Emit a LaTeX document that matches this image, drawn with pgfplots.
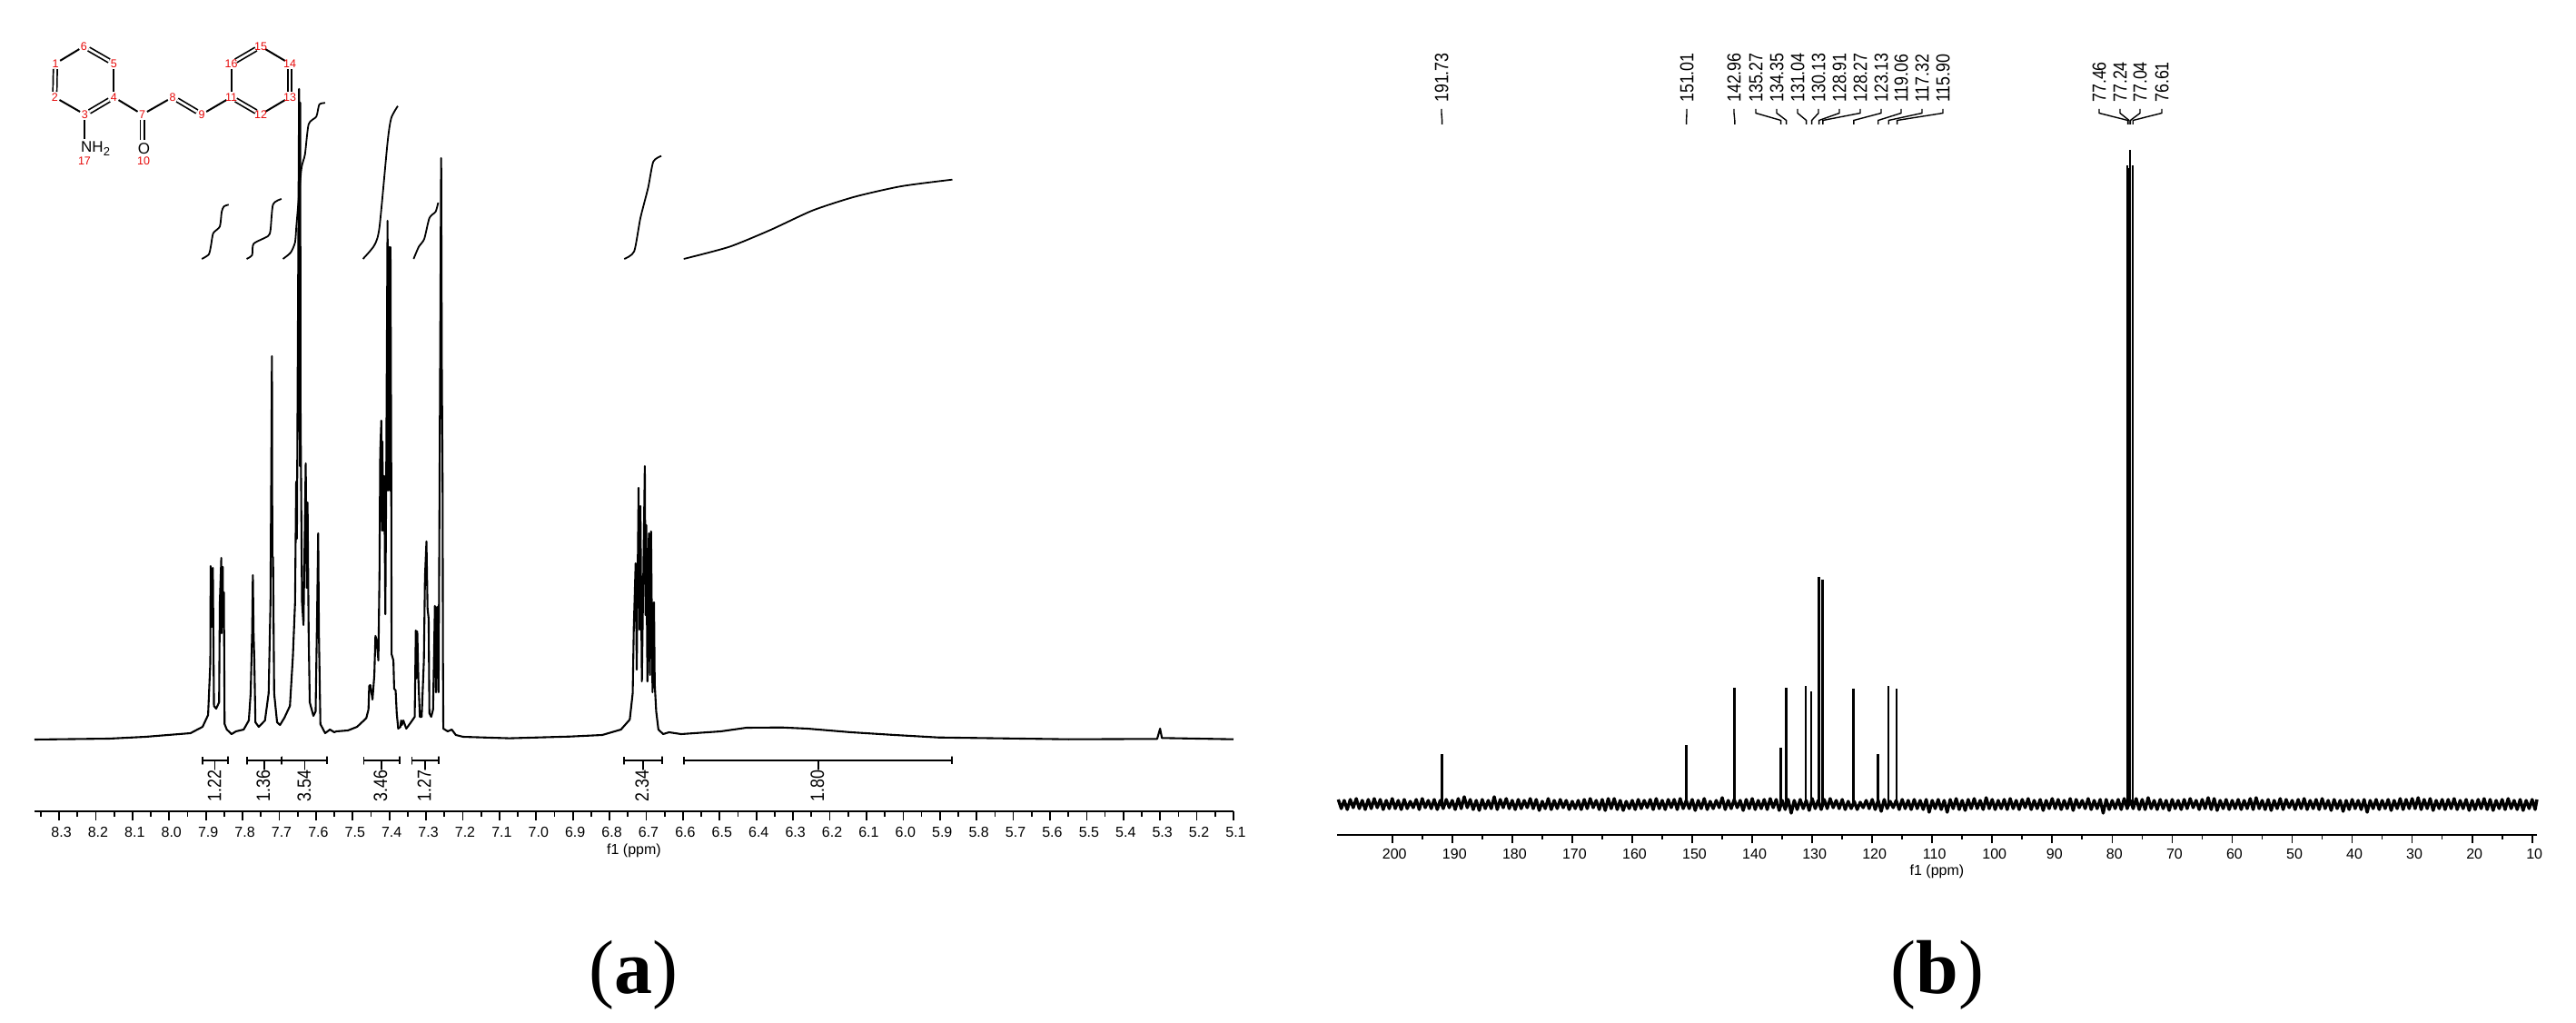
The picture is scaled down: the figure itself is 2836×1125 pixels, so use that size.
\documentclass[border=0pt]{standalone}
\usepackage{fontspec}
\usepackage{graphicx}
\usepackage{pgfplots}
\pgfplotsset{compat=1.18}
\setmainfont{Liberation Sans}
\newfontfamily\capfont{Liberation Serif}
\newcommand\tickfont{\fontsize{16}{18}\selectfont}
\newcommand\pk[1]{\scalebox{.85}[1]{\fontsize{21}{22}\selectfont #1}}
\definecolor{atomred}{RGB}{230,10,10}

\pgfplotsset{
  spec/.style={
    scale only axis, clip=false, x dir=reverse,
    axis x line*=bottom, axis y line=none,
    axis line style={line width=2pt, -},
    every tick/.style={black, line width=1.7pt},
    major tick length=10pt, minor tick length=6pt,
    tick align=outside, minor x tick num=1,
    scaled x ticks=false,
    tick label style={font=\tickfont},
    label style={font=\tickfont},
    every axis plot/.append style={black, no marks, line join=round, line cap=butt},
  },
  integ/.style={line width=1.8pt, smooth, tension=0.4},
  bar/.style={line width=1.4pt},
}

\begin{document}
\begin{tikzpicture}[x=1pt,y=1pt]
\path (0,0) rectangle (2836,1125);

% (a) 1H spectrum, baseline is y=0, one unit is one pixel
\begin{axis}[spec, anchor=south west, at={(38pt,232pt)},
    width=1320pt, height=843pt,
    xmin=5.1, xmax=8.367, ymin=-80, ymax=763,
    xtick={5.1,5.2,...,8.35},
    xticklabel style={xshift=2.5pt, yshift=-4pt, /pgf/number format/.cd, fixed, fixed zerofill, precision=1, assume math mode=true},
    xlabel={f1 (ppm)},
    xlabel style={at={(axis description cs:0.5,0)}, anchor=center, yshift=-43pt}]
\addplot[line width=2.1pt] coordinates {
(8.367,-1)(8.164,0)(8.065,2)(7.942,6)(7.909,13)(7.894,26)(7.888,83)(7.887,190)(7.884,123)(7.881,188)(7.878,36)
(7.872,33)(7.864,40)(7.862,150)(7.858,199)(7.857,116)(7.854,189)(7.853,123)(7.851,161)(7.849,16)(7.843,10)
(7.830,5)(7.818,8)(7.797,10)(7.783,20)(7.778,50)(7.774,116)(7.772,180)(7.770,116)(7.768,86)(7.765,18)
(7.756,13)(7.739,20)(7.729,50)(7.724,150)(7.720,421)(7.719,200)(7.717,200)(7.714,50)(7.706,18)(7.698,15)
(7.686,23)(7.671,36)(7.663,90)(7.657,150)(7.654,283)(7.652,220)(7.646,715)(7.644,300)(7.643,700)(7.642,363)
(7.640,248)(7.638,150)(7.634,125)(7.628,303)(7.625,166)(7.623,260)(7.620,116)(7.617,40)(7.607,25)(7.601,30)
(7.597,136)(7.594,226)(7.592,116)(7.588,16)(7.575,6)(7.562,10)(7.550,7)(7.545,8)(7.513,9)(7.488,13)
(7.463,22.5)(7.457,32)(7.455,58)(7.452,59)(7.446,43)(7.441,70)(7.438,113)(7.435,109)(7.430,86)(7.427,181)
(7.425,315)(7.422,350)(7.420,229)(7.419,327)(7.417,229)(7.414,289)(7.411,137)(7.409,258)(7.405,570)(7.404,273)
(7.400,541)(7.398,273)(7.397,541)(7.395,300)(7.394,93)(7.389,86)(7.387,55)(7.383,53)(7.380,28)(7.376,11)
(7.370,13)(7.368,20)(7.366,15)(7.362,20)(7.354,11)(7.343,17)(7.331,24)(7.328,119)(7.327,66)(7.324,118)
(7.321,66)(7.317,24)(7.312,24)(7.306,86)(7.303,178)(7.299,217)(7.296,143)(7.293,132)(7.291,28)(7.286,24)
(7.281,32)(7.276,146)(7.273,51)(7.270,145)(7.266,51)(7.259,639)(7.257,400)(7.255,281)(7.254,86)(7.253,11)
(7.241,8)(7.230,10)(7.219,4)(7.199,2)(7.073,0.4)(6.908,2.3)(6.820,4)(6.769,10)(6.745,21)(6.737,50)
(6.734,123)(6.729,193)(6.726,76)(6.721,276)(6.718,120)(6.716,256)(6.712,63)(6.704,300)(6.702,136)(6.700,235)
(6.697,63)(6.693,226)(6.690,70)(6.687,228)(6.683,51)(6.679,150)(6.677,60)(6.673,30)(6.667,10)(6.654,5)
(6.638,7)(6.605,5)(6.497,8)(6.427,12)(6.331,12.3)(6.261,11)(6.142,7)(6.023,4)(5.905,1.3)(5.728,0.3)
(5.550,-0.7)(5.308,-0.3)(5.300,11)(5.295,0.7)(5.1,-0.7)};

% integral curves
\addplot[integ] coordinates {(7.911,528)(7.892,533)(7.886,543)(7.880,556.3)(7.862,563.7)(7.857,579.7)(7.851,585.7)(7.838,587.7)};
\addplot[integ] coordinates {(7.789,528)(7.774,532.3)(7.770,544.7)(7.731,553)(7.724,559.7)(7.717,588)(7.694,594)};
\addplot[integ] coordinates {(7.690,528)(7.669,535)(7.657,546.3)(7.653,566.3)(7.640,626.3)(7.630,643)(7.620,676.3)(7.599,684.7)(7.591,698)(7.575,699.7)};
\addplot[integ] coordinates {(7.472,528)(7.441,543)(7.427,563)(7.405,656.3)(7.395,683)(7.377,696.3)};
\addplot[integ] coordinates {(7.334,528)(7.320,541.3)(7.305,550)(7.291,573)(7.274,580)(7.267,590)};
\addplot[integ] coordinates {(6.760,528)(6.733,536.3)(6.716,573)(6.695,606.3)(6.681,635)(6.659,641.3)};
\addplot[integ] coordinates {(6.598,528)(6.474,541.3)(6.361,560)(6.247,581.3)(6.133,596.3)(6.005,608)(5.866,615.3)};

% integration ranges
\addplot[bar] coordinates {(7.909,-20)(7.909,-28)(7.909,-24)(7.875,-24)(7.875,-34)(7.875,-24)(7.840,-24)(7.840,-20)(7.840,-28)};
\addplot[bar] coordinates {(7.788,-20)(7.788,-28)(7.788,-24)(7.741,-24)(7.741,-34)(7.741,-24)(7.692,-24)(7.692,-20)(7.692,-28)};
\addplot[bar] coordinates {(7.694,-20)(7.694,-28)(7.694,-24)(7.630,-24)(7.630,-34)(7.630,-24)(7.570,-24)(7.570,-20)(7.570,-28)};
\addplot[bar] coordinates {(7.470,-20)(7.470,-28)(7.470,-24)(7.422,-24)(7.422,-34)(7.422,-24)(7.372,-24)(7.372,-20)(7.372,-28)};
\addplot[bar] coordinates {(7.338,-20)(7.338,-28)(7.338,-24)(7.303,-24)(7.303,-34)(7.303,-24)(7.266,-24)(7.266,-20)(7.266,-28)};
\addplot[bar] coordinates {(6.761,-20)(6.761,-28)(6.761,-24)(6.709,-24)(6.709,-34)(6.709,-24)(6.657,-24)(6.657,-20)(6.657,-28)};
\addplot[bar] coordinates {(6.597,-20)(6.597,-28)(6.597,-24)(6.231,-24)(6.231,-34)(6.231,-24)(5.867,-24)(5.867,-20)(5.867,-28)};
\end{axis}

% (b) 13C spectrum, baseline is y=0, one unit is one pixel
\begin{axis}[spec, anchor=south west, at={(1472pt,206pt)},
    width=1321pt, height=869pt,
    xmin=9.2, xmax=209.2, ymin=-34, ymax=835,
    xtick={10,20,...,200},
    major tick length=9pt, minor tick length=5pt,
    xticklabel style={xshift=2.5pt, yshift=-3pt, /pgf/number format/assume math mode=true},
    xlabel={f1 (ppm)},
    xlabel style={at={(axis description cs:0.5,0)}, anchor=center, yshift=-40pt}]
\addplot[line width=3.4pt] coordinates {
(209,5)(208.5,-5)(208,4)(207.5,-6)(207,5)(206.5,-4)(206,6)(205.5,-5)(205,4)(204.5,-6)(204,5)(203.5,-5)(203,6)(202.5,-4)(202,5)(201.5,-6)(201,4)(200.5,-5)(200,6)(199.5,-5)
(199,4)(198.5,-6)(198,5)(197.5,-5)(197,3)(196.5,-4)(196,5)(195.5,-6)(195,6)(194.5,-4)(194,4)(193.5,-5)(193,5)(192.5,-6)(192,4)(191.5,-5)(191,5)(190.5,-4)(190,4)(189.5,-6)
(189,6)(188.5,-5)(188,8)(187.5,-4)(187,5)(186.5,-6)(186,4)(185.5,-7)(185,5)(184.5,-5)(184,4)(183.5,-5)(183,8)(182.5,-6)(182,5)(181.5,-4)(181,6)(180.5,-5)(180,4)(179.5,-6)
(179,5)(178.5,-5)(178,4)(177.5,-4)(177,6)(176.5,-5)(176,5)(175.5,-7)(175,3)(174.5,-5)(174,6)(173.5,-6)(173,4)(172.5,-5)(172,5)(171.5,-4)(171,4)(170.5,-6)(170,3)(169.5,-5)
(169,4)(168.5,-6)(168,5)(167.5,-5)(167,6)(166.5,-4)(166,4)(165.5,-6)(165,5)(164.5,-7)(164,6)(163.5,-5)(163,6)(162.5,-6)(162,4)(161.5,-7)(161,3)(160.5,-5)(160,4)(159.5,-6)
(159,5)(158.5,-5)(158,4)(157.5,-4)(157,5)(156.5,-6)(156,6)(155.5,-5)(155,4)(154.5,-6)(154,5)(153.5,-4)(153,5)(152.5,-6)(152,6)(151.5,-5)(151,4)(150.5,-5)(150,5)(149.5,-7)
(149,4)(148.5,-5)(148,6)(147.5,-6)(147,3)(146.5,-5)(146,4)(145.5,-4)(145,7)(144.5,-6)(144,4)(143.5,-5)(143,5)(142.5,-4)(142,4)(141.5,-7)(141,5)(140.5,-5)(140,6)(139.5,-6)
(139,4)(138.5,-5)(138,5)(137.5,-6)(137,6)(136.5,-4)(136,5)(135.5,-7)(135,4)(134.5,-6)(134,5)(133.5,-10)(133,4)(132.5,-6)(132,5)(131.5,-5)(131,4)(130.5,-7)(130,6)(129.5,-5)
(129,4)(128.5,-6)(128,5)(127.5,-5)(127,6)(126.5,-4)(126,4)(125.5,-5)(125,5)(124.5,-6)(124,3)(123.5,-5)(123,3)(122.5,-6)(122,2)(121.5,-4)(121,4)(120.5,-5)(120,5)(119.5,-6)
(119,4)(118.5,-8)(118,5)(117.5,-5)(117,3)(116.5,-4)(116,4)(115.5,-6)(115,5)(114.5,-5)(114,4)(113.5,-6)(113,5)(112.5,-5)(112,4)(111.5,-6)(111,5)(110.5,-9)(110,4)(109.5,-5)
(109,5)(108.5,-6)(108,4)(107.5,-9)(107,5)(106.5,-5)(106,6)(105.5,-6)(105,4)(104.5,-7)(104,5)(103.5,-5)(103,6)(102.5,-5)(102,4)(101.5,-6)(101,7)(100.5,-5)(100,5)(99.5,-6)
(99,4)(98.5,-5)(98,5)(97.5,-6)(97,6)(96.5,-5)(96,4)(95.5,-6)(95,5)(94.5,-4)(94,6)(93.5,-6)(93,4)(92.5,-5)(92,5)(91.5,-7)(91,4)(90.5,-5)(90,6)(89.5,-5)
(89,5)(88.5,-6)(88,4)(87.5,-5)(87,6)(86.5,-7)(86,5)(85.5,-4)(85,4)(84.5,-5)(84,6)(83.5,-6)(83,4)(82.5,-5)(82,5)(81.5,-10)(81,5)(80.5,-6)(80,4)(79.5,-5)
(79,5)(78.5,-6)(78,6)(77.5,-5)(77,4)(76.5,-5)(76,6)(75.5,-6)(75,5)(74.5,-6)(74,7)(73.5,-5)(73,4)(72.5,-6)(72,5)(71.5,-5)(71,4)(70.5,-7)(70,5)(69.5,-5)
(69,4)(68.5,-6)(68,5)(67.5,-5)(67,6)(66.5,-4)(66,4)(65.5,-6)(65,5)(64.5,-5)(64,7)(63.5,-6)(63,6)(62.5,-7)(62,4)(61.5,-5)(61,5)(60.5,-6)(60,4)(59.5,-5)
(59,5)(58.5,-6)(58,4)(57.5,-5)(57,6)(56.5,-6)(56,7)(55.5,-5)(55,4)(54.5,-6)(54,5)(53.5,-7)(53,4)(52.5,-5)(52,6)(51.5,-6)(51,5)(50.5,-4)(50,4)(49.5,-6)
(49,5)(48.5,-5)(48,6)(47.5,-6)(47,4)(46.5,-5)(46,5)(45.5,-6)(45,6)(44.5,-5)(44,4)(43.5,-7)(43,5)(42.5,-5)(42,4)(41.5,-8)(41,4)(40.5,-6)(40,5)(39.5,-5)
(39,4)(38.5,-6)(38,5)(37.5,-9)(37,4)(36.5,-5)(36,5)(35.5,-6)(35,4)(34.5,-5)(34,5)(33.5,-7)(33,4)(32.5,-5)(32,6)(31.5,-6)(31,5)(30.5,-5)(30,6)(29.5,-5)
(29,7)(28.5,-6)(28,5)(27.5,-5)(27,6)(26.5,-7)(26,4)(25.5,-5)(25,5)(24.5,-6)(24,5)(23.5,-5)(23,6)(22.5,-6)(22,4)(21.5,-5)(21,5)(20.5,-7)(20,4)(19.5,-6)
(19,5)(18.5,-5)(18,6)(17.5,-6)(17,5)(16.5,-7)(16,4)(15.5,-5)(15,5)(14.5,-6)(14,6)(13.5,-5)(13,4)(12.5,-6)(12,5)(11.5,-7)(11,4)(10.5,-5)(10,5)(9.5,-6)(9.2,5)};
% peaks
\addplot[ycomb, line width=2.4pt] coordinates {
(191.73,55)(151.01,65)(142.96,128)(135.27,62)(134.35,128)(131.04,130)(130.13,124)(128.91,250)(128.27,247)
(123.13,127)(119.06,55)(117.32,130)(115.90,127)(77.46,703)(77.24,700)(77.04,720)(76.61,703)};
\end{axis}

% annotations in image pixels, y running down
\begin{scope}[shift={(0pt,1125pt)}, y=-1pt]
  % integral values of (a)
  \foreach \t/\x in {1.22/236,1.36/290,3.54/335,3.46/419,1.27/467,2.34/707,1.80/900}
    \node[rotate=90, anchor=west, inner sep=0pt] at (\x,883) {\pk{\t}};
  % peak list of (b)
  \foreach \t/\xl/\xp in {191.73/1587/1587.6,151.01/1857/1856.6,142.96/1909/1909.8,
      135.27/1933/1960.6,134.35/1956/1966.6,131.04/1979/1988.6,130.13/2002/1994.6,
      128.91/2025/2002.6,128.27/2048/2006.9,123.13/2071/2040.8,119.06/2093/2067.7,
      117.32/2116/2079.2,115.90/2139/2088.6,77.46/2311/2342.5,77.24/2334/2344,
      77.04/2356/2345.4,76.61/2380/2348.2}{
    \node[rotate=90, anchor=west, inner sep=0pt] at (\xl,113) {\pk{\t}};
    \draw[line width=1.4pt] (\xl,120)--(\xl,124.5)--(\xp,132.5)--(\xp,137);
  }
  % panel captions
  \node[font=\capfont\fontsize{84}{90}\selectfont, inner sep=0pt] at (697,1073) {(\textbf{a})};
  \node[font=\capfont\fontsize{84}{90}\selectfont, inner sep=0pt] at (2133,1073) {(\textbf{b})};
  % structure drawn on (a)
  \begin{scope}[line width=2pt]
    \coordinate (a1) at (61,70); \coordinate (a2) at (60.3,107); \coordinate (a3) at (93.3,126);
    \coordinate (a4) at (125.4,107); \coordinate (a5) at (125.4,70); \coordinate (a6) at (92.4,51);
    \coordinate (a7) at (156.7,126); \coordinate (a8) at (190,107); \coordinate (a9) at (222,126);
    \coordinate (a11) at (254.5,107); \coordinate (a12) at (287,126); \coordinate (a13) at (319,107);
    \coordinate (a14) at (319,70); \coordinate (a15) at (287,51); \coordinate (a16) at (254.5,70);
    \foreach \p/\q in {a1/a6,a2/a3,a4/a5,a4/a7,a7/a8,a9/a11,a11/a16,a12/a13,a14/a15}
      \draw[shorten >=6pt, shorten <=6pt] (\p)--(\q);
    \foreach \p/\q in {a1/a2,a3/a4,a5/a6,a8/a9,a11/a12,a13/a14,a15/a16}
      \draw[double, double distance=2.6pt, line width=1.7pt, shorten >=6pt, shorten <=6pt] (\p)--(\q);
    \draw (93.3,132)--(93.3,153);
    \draw[double, double distance=2.6pt, line width=1.7pt] (156.7,132)--(156.7,154);
  \end{scope}
  \foreach \t/\x/\y in {1/61/70,2/60.3/107,3/93.3/126,4/125.4/107,5/125.4/70,6/92.4/51,
      7/156.7/126,8/190/107,9/222/126,11/254.5/107,12/287/126,13/319/107,14/319/70,
      15/287/51,16/254.5/70,10/158/177,17/93/177}
    \node[text=atomred, font=\fontsize{12.5}{13}\selectfont, inner sep=0pt] at (\x,\y) {\t};
  \node[font=\fontsize{17}{18}\selectfont, inner sep=0pt] at (158.5,163.5) {O};
  \node[font=\fontsize{17}{18}\selectfont, inner sep=0pt, anchor=west] at (89,164) {NH\raisebox{-4pt}{\fontsize{13}{13}\selectfont 2}};
\end{scope}
\end{tikzpicture}
\end{document}
